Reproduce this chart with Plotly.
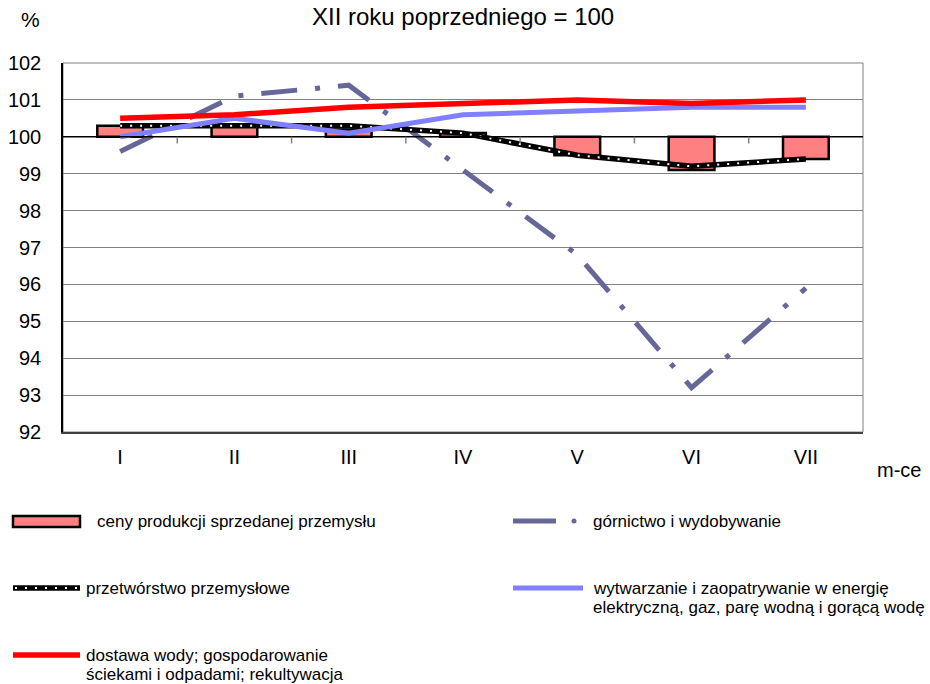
import plotly.graph_objects as go

months = ["I", "II", "III", "IV", "V", "VI", "VII"]
ceny = [100.3, 100.3, 100.2, 100.1, 99.5, 99.1, 99.4]
gornictwo = [99.6, 101.1, 101.4, 99.1, 96.8, 93.2, 95.9]
przetworstwo = [100.3, 100.3, 100.3, 100.1, 99.5, 99.2, 99.4]
wytwarzanie = [100.0, 100.5, 100.1, 100.6, 100.7, 100.8, 100.8]
dostawa = [100.5, 100.6, 100.8, 100.9, 101.0, 100.9, 101.0]

names = [
    ["ceny produkcji sprzedanej przemysłu"],
    ["górnictwo i wydobywanie"],
    ["przetwórstwo przemysłowe"],
    ["wytwarzanie i zaopatrywanie w energię", "elektryczną, gaz, parę wodną i gorącą wodę"],
    ["dostawa wody; gospodarowanie", "ściekami i odpadami; rekultywacja"],
]
BASE = 100

W, H = 930, 684
L, R, T, B = 63, 863, 63, 432  # plot area in page pixels
FONT = "Liberation Sans, Arial, sans-serif"

def px(x):
    return (x - L) / (R - L)

def py(y):
    return (B - y) / (B - T)

C_BAR = "#FF8080"
C_GOR = "#666699"
C_BLUE = "#8080FF"
C_RED = "#FF0000"

fig = go.Figure()

fig.add_trace(go.Bar(
    x=months, y=[v - BASE for v in ceny], base=BASE,
    marker=dict(color=C_BAR, line=dict(color="black", width=2.5)),
    width=0.4, showlegend=False,
))
fig.add_trace(go.Scatter(
    x=months, y=gornictwo, mode="lines",
    line=dict(color=C_GOR, width=5, dash="36px,18px,5px,18px"),
    showlegend=False,
))
fig.add_trace(go.Scatter(
    x=months, y=przetworstwo, mode="lines",
    line=dict(color="black", width=5.5), showlegend=False,
))
fig.add_trace(go.Scatter(
    x=months, y=przetworstwo, mode="lines",
    line=dict(color="white", width=2, dash="2px,8px"), showlegend=False,
))
fig.add_trace(go.Scatter(
    x=months, y=wytwarzanie, mode="lines",
    line=dict(color=C_BLUE, width=5), showlegend=False,
))
fig.add_trace(go.Scatter(
    x=months, y=dostawa, mode="lines",
    line=dict(color=C_RED, width=5.5), showlegend=False,
))

shapes = []
shapes.append(dict(type="rect", xref="paper", yref="paper", x0=0, x1=1, y0=0, y1=1,
                   line=dict(color="#808080", width=1), layer="below"))
shapes.append(dict(type="line", xref="paper", yref="y", x0=0, x1=1, y0=BASE, y1=BASE,
                   line=dict(color="black", width=1.5)))
for i in range(len(months) - 1):
    shapes.append(dict(type="line", xref="x", yref="y", x0=i + 0.5, x1=i + 0.5,
                       y0=BASE, y1=BASE - 0.18, line=dict(color="#808080", width=1.5)))

# legend samples (page pixel positions)
r1, r2, r3 = 521, 588, 655
shapes.append(dict(type="rect", xref="paper", yref="paper",
                   x0=px(13), x1=px(80), y0=py(527), y1=py(516),
                   fillcolor=C_BAR, line=dict(color="black", width=2.5)))
shapes.append(dict(type="line", xref="paper", yref="paper",
                   x0=px(513), x1=px(556), y0=py(r1), y1=py(r1),
                   line=dict(color=C_GOR, width=5)))
shapes.append(dict(type="circle", xref="paper", yref="paper",
                   x0=px(571.5), x1=px(576.5), y0=py(r1 + 2.5), y1=py(r1 - 2.5),
                   fillcolor=C_GOR, line=dict(color=C_GOR, width=0)))
shapes.append(dict(type="line", xref="paper", yref="paper",
                   x0=px(13), x1=px(80), y0=py(r2), y1=py(r2),
                   line=dict(color="black", width=5.5)))
shapes.append(dict(type="line", xref="paper", yref="paper",
                   x0=px(15), x1=px(80), y0=py(r2), y1=py(r2),
                   line=dict(color="white", width=2, dash="2px,8px")))
shapes.append(dict(type="line", xref="paper", yref="paper",
                   x0=px(513), x1=px(583), y0=py(r2), y1=py(r2),
                   line=dict(color=C_BLUE, width=5)))
shapes.append(dict(type="line", xref="paper", yref="paper",
                   x0=px(13), x1=px(80), y0=py(r3), y1=py(r3),
                   line=dict(color=C_RED, width=5.5)))

ann = []
def text(x, y, s, size=17, xanchor="left"):
    ann.append(dict(x=px(x), y=py(y), xref="paper", yref="paper", text=s,
                    showarrow=False, xanchor=xanchor, yanchor="middle", align="left",
                    font=dict(family=FONT, size=size, color="black")))

def legend_text(x, y, lines):
    for k, s in enumerate(lines):
        text(x, y + 19 * k, s)

text(463, 16, "XII roku poprzedniego = 100", size=24, xanchor="center")
text(30, 19, "%", size=21, xanchor="center")
text(899, 470, "m-ce", size=20, xanchor="center")
legend_text(95, r1, names[0])
legend_text(591, r1, names[1])
legend_text(84, r2, names[2])
legend_text(591, r2, names[3])
legend_text(84, r3, names[4])

fig.update_layout(
    width=W, height=H,
    margin=dict(l=L, r=W - R, t=T, b=H - B, autoexpand=False),
    paper_bgcolor="white", plot_bgcolor="white",
    font=dict(family=FONT, size=20, color="black"),
    showlegend=False,
    shapes=shapes, annotations=ann,
    xaxis=dict(type="category", range=[-0.5, len(months) - 0.5], showgrid=False,
               showline=True, linecolor="#404040", linewidth=1.5, ticks="",
               tickfont=dict(size=20), ticklabelstandoff=6, zeroline=False,
               automargin=False),
    yaxis=dict(range=[92, 102], dtick=1, showgrid=True, gridcolor="#808080", gridwidth=1,
               showline=True, linecolor="black", linewidth=1.5, ticks="",
               tickfont=dict(size=20), ticklabelstandoff=16, zeroline=False,
               automargin=False),
)

fig.write_html("out.html", config={"displayModeBar": False},
               post_script="document.body.style.margin='0';")
